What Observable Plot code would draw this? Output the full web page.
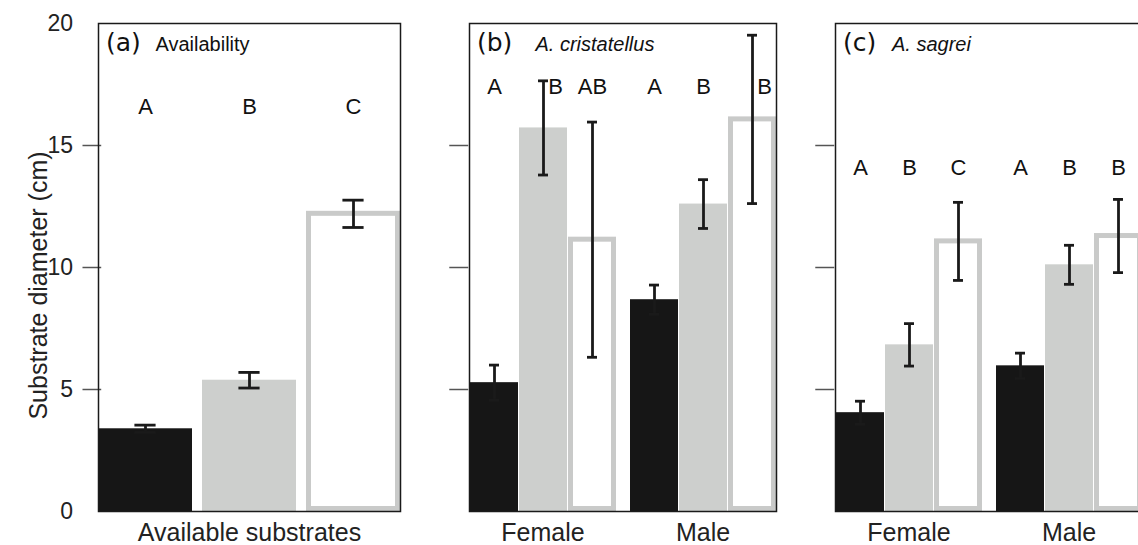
<!DOCTYPE html>
<html><head><meta charset="utf-8">
<script src="https://cdn.jsdelivr.net/npm/d3@7"></script>
<script src="https://cdn.jsdelivr.net/npm/@observablehq/plot@0.6"></script>
<style>
body{margin:0;background:#fff;}
#chart{position:relative;width:1138px;height:545px;overflow:hidden;background:#fff;}
#chart svg{position:absolute;top:0;}
</style></head><body><div id="chart"></div>
<script>
// ---- data ----
const series = ["S1", "S2", "S3"];
const panelLabels = ["(a)", "(b)", "(c)"];
const panelTitles = ["Availability", "A. cristatellus", "A. sagrei"];
const groupsA = ["Available substrates"];
const groupsSex = ["Female", "Male"];

const availMean = [3.39, 5.38, 12.2];
const availSE = [0.15, 0.32, 0.56];
const availLetters = ["A", "B", "C"];

const cristMean = [5.28, 15.72, 11.14, 8.68, 12.6, 16.07];
const cristSE = [0.72, 1.93, 4.82, 0.6, 1.0, 3.45];
const cristLetters = ["A", "B", "AB", "A", "B", "B"];

const sagreiMean = [4.05, 6.83, 11.07, 5.97, 10.11, 11.29];
const sagreiSE = [0.47, 0.87, 1.6, 0.52, 0.8, 1.5];
const sagreiLetters = ["A", "B", "C", "A", "B", "B"];

const letterLevels = [16.6, 17.4, 14.1];
const yTicks = [0, 5, 10, 15, 20];
const yTickLabels = ["0", "5", "10", "15", "20"];
const yTitle = "Substrate diameter (cm)";

// ---- styling ----
const FONT = "Liberation Sans, Arial, Helvetica, sans-serif";
const BLACK = "#161616", GRAY = "#cdcfcd", OUTLINE = "#c9cac9", INK = "#1a1a1a";

function rows(groups, means, ses, letters) {
  return means.map((m, i) => ({
    group: groups[Math.floor(i / 3)],
    series: series[i % 3],
    mean: m,
    se: ses[i],
    letter: letters[i]
  }));
}

// band geometry helper (mirrors d3.scaleBand) to place in-frame ticks
function bandInfo(W, n, pi, po, align) {
  const step = W / Math.max(1, n - pi + 2 * po);
  const offset = (W - step * (n - pi)) * align;
  return {step, bw: step * (1 - pi), offset};
}

function panel(cfg) {
  const data = rows(cfg.groups, cfg.means, cfg.ses, cfg.letters);
  const ly = cfg.letterY;
  const shifted = d => d.mean + d.se > ly - 0.5;
  const W = cfg.width - cfg.marginLeft - cfg.marginRight;
  const fxb = bandInfo(W, cfg.groups.length, cfg.fxInner, cfg.fxOuter, cfg.fxAlign);
  const xbw = fxb.bw / (3 - cfg.xInner) * (1 - cfg.xInner);
  const capInset = (xbw - cfg.capWidth) / 2;
  const first = () => cfg.groups[0];
  const marks = [
    Plot.barY(data.filter(d => d.series !== "S3"), {
      fx: "group", x: "series", y: "mean",
      fill: d => d.series === "S1" ? BLACK : GRAY
    }),
    Plot.barY(data.filter(d => d.series === "S3"), {
      fx: "group", x: "series", y: "mean",
      fill: "white", stroke: OUTLINE, strokeWidth: 5,
      insetLeft: 2.5, insetRight: 2.5, insetBottom: 2.5
    }),
    Plot.ruleX(data, {
      fx: "group", x: "series",
      y1: d => d.mean - d.se, y2: d => d.mean + d.se,
      stroke: INK, strokeWidth: 2.8
    }),
    Plot.tickY(data, {
      fx: "group", x: "series", y: d => d.mean + d.se,
      stroke: INK, strokeWidth: 2.8, inset: capInset
    }),
    Plot.tickY(data, {
      fx: "group", x: "series", y: d => d.mean - d.se,
      stroke: INK, strokeWidth: 2.8, inset: capInset
    }),
    Plot.text(data.filter(d => !shifted(d)), {
      fx: "group", x: "series", y: () => ly, text: "letter",
      fontSize: 22, fill: "#111", lineAnchor: "middle"
    }),
    Plot.text(data.filter(shifted), {
      fx: "group", x: "series", y: () => ly, text: "letter",
      fontSize: 22, fill: "#111", lineAnchor: "middle", dx: 12
    }),
    // inward y ticks, drawn once (in the first facet) from the frame's left edge
    Plot.ruleY(yTicks.slice(1, -1), {
      fx: first, y: d => d,
      stroke: "#555", strokeWidth: 1.5,
      insetLeft: -fxb.offset, insetRight: fxb.bw + fxb.offset - 19
    }),
    Plot.frame({stroke: INK, strokeWidth: 1.5, facet: "super"}),
    Plot.text([cfg.label], {
      frameAnchor: "top-left", dx: 7.5, dy: 27, lineAnchor: "bottom",
      textAnchor: "start", fontFamily: "DejaVu Sans, sans-serif",
      fontSize: 25, fill: "#111", facet: "super"
    }),
    Plot.text([cfg.title], {
      frameAnchor: "top-left", dx: cfg.titleDx, dy: 27, lineAnchor: "bottom",
      textAnchor: "start", fontSize: 20, fill: "#111",
      fontStyle: cfg.italic ? "italic" : "normal", facet: "super"
    })
  ];
  if (cfg.yAxis) {
    marks.push(
      Plot.text(yTicks, {
        fx: first, y: d => d, text: (d, i) => yTickLabels[i],
        frameAnchor: "left", textAnchor: "end", dx: -10 - fxb.offset, lineAnchor: "middle",
        fontSize: 23, fill: "#222"
      }),
      Plot.text([yTitle], {
        frameAnchor: "left", rotate: -90, dx: -60, dy: 18,
        textAnchor: "middle", lineAnchor: "middle",
        fontSize: 25, fill: "#222", facet: "super"
      })
    );
  }
  const svg = Plot.plot({
    width: cfg.width, height: 545,
    marginLeft: cfg.marginLeft, marginRight: cfg.marginRight,
    marginTop: 23, marginBottom: 34,
    style: {fontFamily: FONT, fontSize: "25px", color: "#222", background: "white", overflow: "visible"},
    fx: {domain: cfg.groups, paddingInner: cfg.fxInner, paddingOuter: cfg.fxOuter, align: cfg.fxAlign,
         axis: "bottom", tickSize: 0, tickPadding: 12, label: null},
    x: {domain: series, paddingInner: cfg.xInner, paddingOuter: 0, axis: null},
    y: {domain: [0, 20], axis: null},
    marks
  });
  svg.style.left = cfg.left + "px";
  return svg;
}

const chart = document.getElementById("chart");
chart.append(panel({
  groups: groupsA, means: availMean, ses: availSE, letters: availLetters,
  letterY: letterLevels[0], label: panelLabels[0], title: panelTitles[0], italic: false,
  left: 0, width: 430, marginLeft: 82, marginRight: 17,
  fxInner: 0, fxOuter: 0.0475, fxAlign: 0.54, xInner: 0.1, capWidth: 21,
  titleDx: 57, yAxis: true
}));
chart.append(panel({
  groups: groupsSex, means: cristMean, ses: cristSE, letters: cristLetters,
  letterY: letterLevels[1], label: panelLabels[1], title: panelTitles[1], italic: true,
  left: 440, width: 350, marginLeft: 9, marginRight: 11,
  fxInner: 0.081, fxOuter: 0.0717, fxAlign: 0.86, xInner: 0.03, capWidth: 10,
  titleDx: 66, yAxis: false
}));
chart.append(panel({
  groups: groupsSex, means: sagreiMean, ses: sagreiSE, letters: sagreiLetters,
  letterY: letterLevels[2], label: panelLabels[2], title: panelTitles[2], italic: true,
  left: 806, width: 350, marginLeft: 9, marginRight: 11,
  fxInner: 0.081, fxOuter: 0.0717, fxAlign: 0.86, xInner: 0.03, capWidth: 10,
  titleDx: 56.5, yAxis: false
}));
</script></body></html>
